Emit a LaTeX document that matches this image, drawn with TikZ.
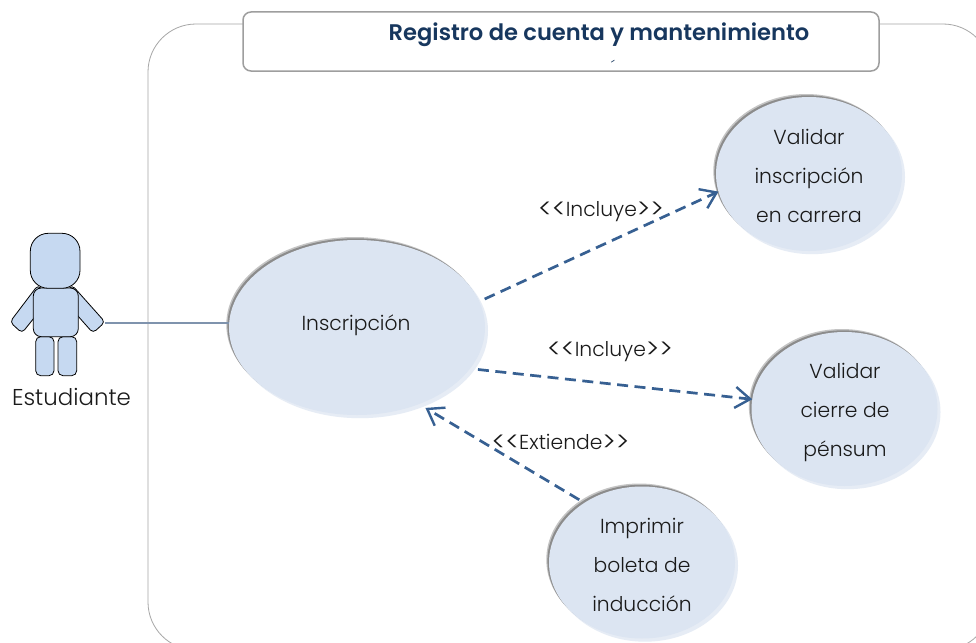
\documentclass[tikz,border=0pt]{standalone}
\usepackage{fontspec}
\setmainfont{Poppins}[UprightFont=* Light,BoldFont=* SemiBold]
\usetikzlibrary{shapes.geometric,arrows.meta}
\definecolor{usefill}{HTML}{DCE5F2}
\definecolor{useglow}{HTML}{E6ECF5}
\definecolor{usegray}{HTML}{8C8C8C}
\definecolor{usehaze}{HTML}{C4C4C4}
\definecolor{actorfill}{HTML}{C6D9F1}
\definecolor{arrowblue}{HTML}{376092}
\definecolor{assocblue}{HTML}{7F93AD}
\definecolor{titlenavy}{HTML}{17375E}
\definecolor{txt}{HTML}{1A1A1A}
\newcommand{\lchev}{\raisebox{-2pt}{\fontsize{27.4}{24}\selectfont<{}<}}
\newcommand{\rchev}{\raisebox{-2pt}{\fontsize{27.4}{24}\selectfont>{}>}}
\tikzset{
  x=1pt,y=-1pt,
  usecase/.style={ellipse,fill=usefill,inner sep=0pt,outer sep=0pt},
  usetext/.style={text=txt,font=\fontsize{20.3}{39}\selectfont,align=center,inner sep=0pt},
  urim/.style={ellipse,fill=#1,inner sep=0pt,draw=none},
  actorpart/.style={draw=black,fill=actorfill,line width=0.8pt,rounded corners=#1},
  incl/.style={draw=arrowblue,line width=2.7pt,dash pattern=on 11pt off 6.5pt,-{Straight Barb[length=15pt,width=21pt,line width=2.4pt]}},
  lbl/.style={text=txt,font=\fontsize{20.3}{24}\selectfont,inner sep=0pt},
  assoc/.style={draw=assocblue,line width=1.2pt},
  frameline/.style={draw=black!35,line width=0.8pt}
}
\begin{document}
\begin{tikzpicture}
\useasboundingbox (0,0) rectangle (976,642);
\clip (0,0) rectangle (976,642);
\fill[white] (0,0) rectangle (976,642);
% system frame
\draw[frameline,rounded corners=48pt] (148,650) rectangle (991,24);
% title
\node[draw=black!38,line width=1.5pt,fill=white,rounded corners=8pt,minimum width=636pt,minimum height=59pt,inner sep=0pt] (title) at (561,41.5) {};
\node[font=\fontsize{22.6}{26}\selectfont\bfseries,text=titlenavy,inner sep=0pt] (titletext) at (599,35) {Registro de cuenta y mantenimiento};
\node[font=\fontsize{16}{16}\selectfont,text=titlenavy,inner sep=0pt] (accent) at (613,66) {´};
% shadows
\foreach \cx/\cy/\w/\h in {357/327.5/256/175,809/174/186/154,844.5/409/186/154,642/562.5/186/152}{
  \node[urim=useglow,minimum width=\w pt,minimum height=\h pt] at (\cx+3,\cy+3.2) {};
  \node[urim=usehaze,minimum width=\w pt,minimum height=\h pt] at (\cx-2.7,\cy-3) {};
  \node[urim=usegray,minimum width=\w pt,minimum height=\h pt] at (\cx-1.6,\cy-1.7) {};
}
% use cases
\node[usecase,minimum width=256pt,minimum height=175pt] (ins) at (357,327.5) {};
\node[usetext] (instext) at (356,325) {Inscripción};
\node[usecase,minimum width=186pt,minimum height=154pt] (vi) at (809,174) {};
\node[usetext] (vitext) at (809,175.5) {Validar\\inscripción\\en carrera};
\node[usecase,minimum width=186pt,minimum height=154pt] (vc) at (844.5,409) {};
\node[usetext] (vctext) at (845,412.5) {Validar\\cierre de\\pénsum};
\node[usecase,minimum width=186pt,minimum height=152pt] (ib) at (642,562.5) {};
\node[usetext] (ibtext) at (642,565) {Imprimir\\boleta de\\inducción};
% actor
\draw[actorpart=4pt] (72,285) -- (105,322) -- (93,333) -- (62,298) -- cycle;
\draw[actorpart=4pt] (38,285) -- (10,322) -- (22,333) -- (50,298) -- cycle;
\draw[actorpart=5pt] (35.7,336.7) rectangle (54,375.7);
\draw[actorpart=5pt] (58,336.7) rectangle (76.7,375.7);
\draw[actorpart=8pt] (33.3,288) rectangle (78.3,336.7);
\draw[actorpart=18pt] (30.3,233.3) rectangle (80,288.3);
\coordinate (hand) at (105,323);
\node[font=\fontsize{22.9}{26}\selectfont,text=txt,inner sep=0pt] (est) at (71.5,397) {Estudiante};
% connectors
\draw[assoc] (hand) -- (ins.west |- hand);
\draw[incl,shorten <=6pt] (ins.12) -- (vi.191);
\draw[incl,shorten <=8pt] (ins.-20.4) -- (vc.174.6);
\draw[incl,shorten <=6pt,shorten >=7.5pt] (ib.134.5) -- (ins.-51.7);
% labels
\node[lbl] (l1) at (601,212) {\lchev Incluye\rchev};
\node[lbl] (l2) at (610,352) {\lchev Incluye\rchev};
\node[lbl] (l3) at (560.5,443) {\lchev Extiende\rchev};
\end{tikzpicture}
\end{document}
